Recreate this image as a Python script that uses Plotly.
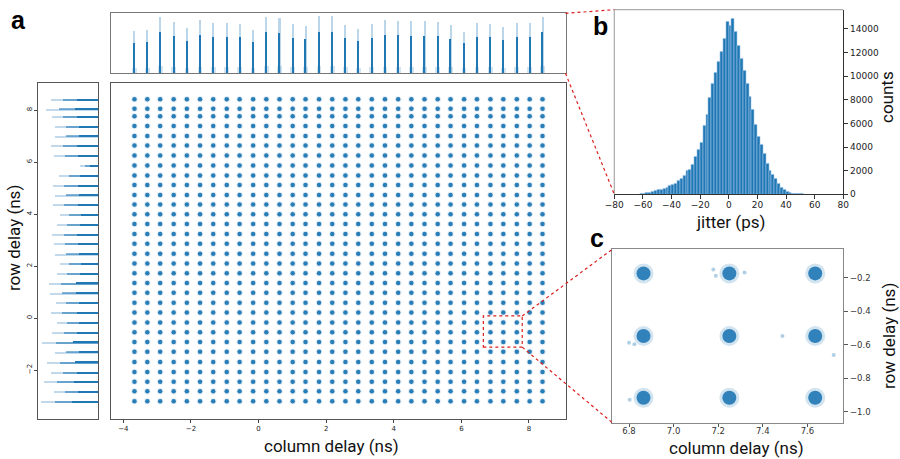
import plotly.graph_objects as go

# ---------------- data ----------------
col_delay = [-3.67, -3.29, -2.91, -2.51, -2.12, -1.73, -1.34, -0.94, -0.56, -0.16,
             0.23, 0.62, 1.01, 1.39, 1.79, 2.18, 2.57, 2.95, 3.35, 3.74,
             4.13, 4.52, 4.91, 5.30, 5.68, 6.08, 6.46, 6.86, 7.24, 7.64, 8.02, 8.40]
row_delay = [-3.20, -2.82, -2.45, -2.08, -1.69, -1.30, -0.92, -0.55, -0.17, 0.21,
             0.59, 0.97, 1.35, 1.72, 2.10, 2.47, 2.86, 3.23, 3.62, 3.99,
             4.37, 4.74, 5.12, 5.49, 5.87, 6.26, 6.64, 7.01, 7.39, 7.77, 8.05, 8.42]
col_counts = [127, 129, 169, 154, 134, 160, 149, 151, 148, 130, 169, 166, 147, 141, 170, 172,
              145, 133, 146, 160, 157, 155, 156, 154, 143, 123, 150, 148, 137, 150, 150, 169]
row_counts = [172, 133, 164, 142, 153, 130, 169, 138, 125, 143, 127, 145, 148, 123, 116, 130,
              132, 138, 124, 115, 137, 130, 137, 118, 53, 133, 142, 129, 130, 140, 157, 142]

jitter_ps = [-61, -59, -57, -55, -53, -51, -49, -47, -45, -43, -41, -39, -37, -35, -33, -31,
             -29, -27, -25, -23, -21, -19, -17, -15, -13, -11, -9, -7, -5, -3, -1, 1,
             3, 5, 7, 9, 11, 13, 15, 17, 19, 21, 23, 25, 27, 29, 31, 33,
             35, 37, 39, 41, 43, 45, 47, 49, 51, 53]
jitter_counts = [20, 60, 100, 150, 220, 300, 350, 420, 480, 600, 700, 800, 900, 1150, 1350, 1600,
                 2000, 2100, 2500, 3200, 3750, 4350, 5800, 6700, 8200, 9400, 10300, 11200, 12100, 13200, 14600, 14300,
                 14900, 13800, 12600, 11500, 10500, 9400, 8300, 7200, 5900, 4900, 4200, 3400, 2600, 2000, 1700, 1300,
                 900, 600, 400, 250, 150, 90, 50, 30, 15, 8]

zoom_cols = [6.865, 7.25, 7.635]
zoom_rows = [-0.174, -0.548, -0.917]
outlier_x = [7.178, 7.189, 7.318, 6.800, 6.824, 7.488, 7.718, 6.803]
outlier_y = [-0.150, -0.188, -0.168, -0.588, -0.598, -0.548, -0.661, -0.929]

x_ticks_main = [-4, -2, 0, 2, 4, 6, 8]
y_ticks_main = [-2, 0, 2, 4, 6, 8]
jitter_ticks = [-80, -60, -40, -20, 0, 20, 40, 60, 80]
count_ticks = [0, 2000, 4000, 6000, 8000, 10000, 12000, 14000]
c_xticks = [6.8, 7.0, 7.2, 7.4, 7.6]
c_yticks = [-1.0, -0.8, -0.6, -0.4, -0.2]

# ---------------- layout geometry ----------------
W, H = 900, 459
def px(v): return v / W
def py(v): return 1 - v / H

main_xd = [px(111), px(565.5)]
main_yd = [py(419), py(82.5)]
top_yd = [py(73.3), py(13.3)]
left_xd = [px(38.3), px(98.3)]
b_xd = [px(614.3), px(843.3)]
b_yd = [py(194.3), py(9.7)]
c_xd = [px(612.3), px(843.3)]
c_yd = [py(422.7), py(249.3)]

main_xr = [-4.364, 9.08]
main_yr = [-3.885, 9.065]
b_xr = [-80, 80]
b_yr = [0, 15634]
c_xr = [6.725, 7.761]
c_yr = [-1.066, -0.030]
zoom_box_x = [6.65, 7.80]
zoom_box_y = [-1.12, 0.08]

BLUE = '#1f77b4'

def neg(v, fmt='{:g}'):
    s = fmt.format(v)
    return s.replace('-', '\u2212')

fig = go.Figure()

# main scatter grid
gx, gy = [], []
for r in row_delay:
    for c in col_delay:
        gx.append(c)
        gy.append(r)
fig.add_trace(go.Scatter(x=gx, y=gy, mode='markers', xaxis='x', yaxis='y',
                         marker=dict(size=6.5, color=BLUE, opacity=0.12, line=dict(width=0)),
                         hoverinfo='skip', showlegend=False))
fig.add_trace(go.Scatter(x=gx, y=gy, mode='markers', xaxis='x', yaxis='y',
                         marker=dict(size=4.5, color=BLUE, opacity=0.95, line=dict(width=0)),
                         showlegend=False))

# top histogram (column delays)
fig.add_trace(go.Bar(x=col_delay, y=[0.12 * v for v in col_counts], width=0.14,
                     xaxis='x2', yaxis='y2', marker=dict(color=BLUE, opacity=0.2, line=dict(width=0)),
                     showlegend=False))
fig.add_trace(go.Bar(x=col_delay, y=col_counts, width=0.06,
                     xaxis='x2', yaxis='y2', marker=dict(color=BLUE, opacity=0.3, line=dict(width=0)),
                     showlegend=False))
fig.add_trace(go.Bar(x=col_delay, y=[0.72 * v for v in col_counts], width=0.035,
                     xaxis='x2', yaxis='y2', marker=dict(color=BLUE, opacity=1.0, line=dict(width=0)),
                     showlegend=False))

# left histogram (row delays)
fig.add_trace(go.Bar(y=row_delay, x=row_counts, width=0.055, orientation='h',
                     xaxis='x3', yaxis='y3', marker=dict(color=BLUE, opacity=0.28, line=dict(width=0)),
                     showlegend=False))
fig.add_trace(go.Bar(y=row_delay, x=[0.75 * v for v in row_counts], width=0.045, orientation='h',
                     xaxis='x3', yaxis='y3', marker=dict(color=BLUE, opacity=0.55, line=dict(width=0)),
                     showlegend=False))
fig.add_trace(go.Bar(y=row_delay, x=[0.45 * v for v in row_counts], width=0.04, orientation='h',
                     xaxis='x3', yaxis='y3', marker=dict(color=BLUE, opacity=1.0, line=dict(width=0)),
                     showlegend=False))

# panel b histogram
fig.add_trace(go.Bar(x=jitter_ps, y=jitter_counts, width=2, xaxis='x4', yaxis='y4',
                     marker=dict(color=BLUE, line=dict(color='#9ec5e8', width=0.6)),
                     showlegend=False))

# panel c clusters
cx, cy = [], []
for r in zoom_rows:
    for c in zoom_cols:
        cx.append(c)
        cy.append(r)
fig.add_trace(go.Scatter(x=cx, y=cy, mode='markers', xaxis='x5', yaxis='y5',
                         marker=dict(size=20, color=BLUE, opacity=0.2, line=dict(width=0)),
                         showlegend=False))
fig.add_trace(go.Scatter(x=cx, y=cy, mode='markers', xaxis='x5', yaxis='y5',
                         marker=dict(size=14, color=BLUE, opacity=0.9, line=dict(width=0)),
                         showlegend=False))
fig.add_trace(go.Scatter(x=outlier_x, y=outlier_y, mode='markers', xaxis='x5', yaxis='y5',
                         marker=dict(size=4, color=BLUE, opacity=0.35, line=dict(width=0)),
                         showlegend=False))

tickfont_small = dict(family='DejaVu Sans', size=7, color='#222')
tickfont_mid = dict(family='DejaVu Sans', size=9, color='#222')

def frame(color):
    return dict(showline=True, linecolor=color, linewidth=1, mirror=True, showgrid=False,
                zeroline=False, automargin=False)

fig.update_layout(
    template='none',
    width=W, height=H, margin=dict(l=0, r=0, t=0, b=0, autoexpand=False),
    paper_bgcolor='white', plot_bgcolor='white', barmode='overlay', bargap=0,
    showlegend=False,
    xaxis=dict(domain=main_xd, range=main_xr, anchor='y', ticks='outside', ticklen=3, tickcolor='#444',
               tickvals=x_ticks_main, ticktext=[neg(v) for v in x_ticks_main], tickfont=tickfont_small,
               **frame('#555')),
    yaxis=dict(domain=main_yd, range=main_yr, anchor='x', showticklabels=False, ticks='', **frame('#555')),
    xaxis2=dict(domain=main_xd, range=main_xr, anchor='y2', showticklabels=False, ticks='', **frame('#777')),
    yaxis2=dict(domain=top_yd, range=[0, 180], anchor='x2', showticklabels=False, ticks='', **frame('#777')),
    xaxis3=dict(domain=left_xd, range=[181, 0], anchor='y3', showticklabels=False, ticks='', **frame('#555')),
    yaxis3=dict(domain=main_yd, range=main_yr, anchor='x3', ticks='outside', ticklen=3, tickcolor='#444',
                tickvals=y_ticks_main, ticktext=[neg(v) for v in y_ticks_main], tickangle=-90,
                tickfont=tickfont_small, **frame('#555')),
    xaxis4=dict(domain=b_xd, range=b_xr, anchor='y4', ticks='outside', ticklen=4, tickcolor='#333',
                tickvals=jitter_ticks, ticktext=[neg(v) for v in jitter_ticks], tickfont=tickfont_mid,
                ticklabelstandoff=-2,
                showline=True, linecolor='#333', linewidth=1, mirror=False, showgrid=False, zeroline=False,
                automargin=False),
    yaxis4=dict(domain=b_yd, range=b_yr, anchor='x4', side='right', ticks='outside', ticklen=4, tickcolor='#333',
                tickvals=count_ticks, ticktext=[str(v) for v in count_ticks], tickfont=tickfont_mid,
                showline=True, linecolor='#333', linewidth=1, mirror=False, showgrid=False, zeroline=False,
                automargin=False),
    xaxis5=dict(domain=c_xd, range=c_xr, anchor='y5', ticks='outside', ticklen=3, tickcolor='#555',
                tickvals=c_xticks, ticktext=[neg(v, '{:.1f}') for v in c_xticks], ticklabelstandoff=-3,
                tickfont=dict(family='DejaVu Sans', size=8.5, color='#333'), **frame('#888')),
    yaxis5=dict(domain=c_yd, range=c_yr, anchor='x5', side='right', ticks='outside', ticklen=4, tickcolor='#555',
                tickvals=c_yticks, ticktext=[neg(v, '{:.1f}') for v in c_yticks],
                tickfont=dict(family='DejaVu Sans', size=8.5, color='#333'), **frame('#888')),
)

# panel b light frame (top / left)
fig.add_shape(type='line', xref='paper', yref='paper', x0=b_xd[0], x1=b_xd[1], y0=b_yd[1], y1=b_yd[1],
              line=dict(color='#aaa', width=1.2))
fig.add_shape(type='line', xref='paper', yref='paper', x0=b_xd[0], x1=b_xd[0], y0=b_yd[0], y1=b_yd[1],
              line=dict(color='#aaa', width=1.2))

# zoom box in main panel
RED = 'rgb(220,30,30)'
fig.add_shape(type='rect', xref='x', yref='y', x0=zoom_box_x[0], x1=zoom_box_x[1],
              y0=zoom_box_y[0], y1=zoom_box_y[1], line=dict(color=RED, width=1.2, dash='dot'))

def main_to_paper(x, y):
    xp = main_xd[0] + (x - main_xr[0]) / (main_xr[1] - main_xr[0]) * (main_xd[1] - main_xd[0])
    yp = main_yd[0] + (y - main_yr[0]) / (main_yr[1] - main_yr[0]) * (main_yd[1] - main_yd[0])
    return xp, yp

p_tr = main_to_paper(zoom_box_x[1], zoom_box_y[1])
p_br = main_to_paper(zoom_box_x[1], zoom_box_y[0])
connectors = [
    (main_xd[1], top_yd[1], b_xd[0], b_yd[1]),
    (main_xd[1], top_yd[0], b_xd[0], b_yd[0]),
    (p_tr[0], p_tr[1], c_xd[0], c_yd[1]),
    (p_br[0], p_br[1], c_xd[0], c_yd[0]),
]
for x0, y0, x1, y1 in connectors:
    fig.add_shape(type='line', xref='paper', yref='paper', x0=x0, y0=y0, x1=x1, y1=y1,
                  line=dict(color=RED, width=1.2, dash='dot'))

title_font = dict(family='Roboto', size=17, color='#111')
letter_font = dict(family='Liberation Sans', size=25, color='#000')
annots = [
    dict(text='column delay (ns)', x=px(331), y=py(446), font=title_font, textangle=0),
    dict(text='row delay (ns)', x=px(14), y=py(238), font=title_font, textangle=-90),
    dict(text='jitter (ps)', x=px(730), y=py(222), font=title_font, textangle=0),
    dict(text='counts', x=px(887), y=py(97), font=title_font, textangle=-90),
    dict(text='column delay (ns)', x=px(736), y=py(448), font=title_font, textangle=0),
    dict(text='row delay (ns)', x=px(889), y=py(336), font=title_font, textangle=-90),
    dict(text='<b>a</b>', x=px(18), y=py(20), font=letter_font, textangle=0),
    dict(text='<b>b</b>', x=px(600), y=py(26), font=letter_font, textangle=0),
    dict(text='<b>c</b>', x=px(597), y=py(238), font=letter_font, textangle=0),
]
for a in annots:
    fig.add_annotation(xref='paper', yref='paper', showarrow=False, xanchor='center', yanchor='middle', **a)

fig.write_html('out.html', config={'displayModeBar': False},
               post_script="document.body.style.margin='0';document.body.style.overflow='hidden';")
